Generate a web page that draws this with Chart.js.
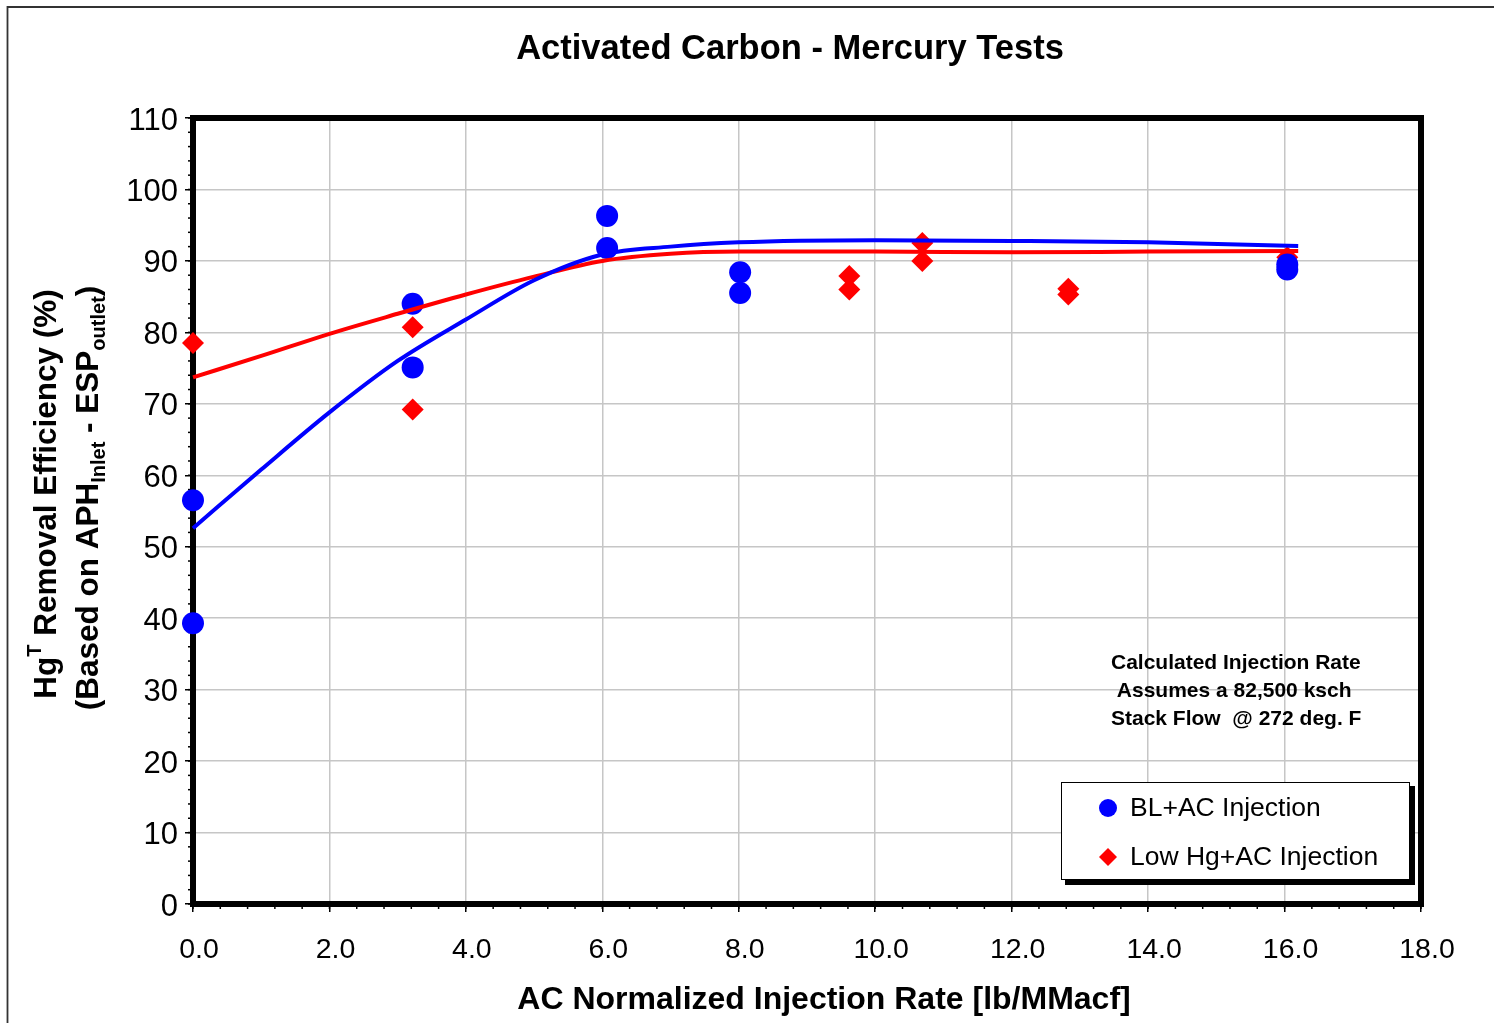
<!DOCTYPE html>
<html>
<head>
<meta charset="utf-8">
<script src="https://cdn.jsdelivr.net/npm/chart.js@4/dist/chart.umd.min.js"></script>
<style>
  body { margin: 0; background: #fff; }
  #wrap { width: 1494px; height: 1023px; }
</style>
</head>
<body>
<div id="wrap"><canvas id="grafico" width="1494" height="1023"></canvas></div>
<script>
// pontos medidos
const rateBL = [0, 0, 3.22, 3.22, 6.07, 6.07, 8.02, 8.02, 16.04, 16.04];
const effBL = [56.5, 39.3, 84.0, 75.1, 96.3, 91.8, 88.4, 85.5, 89.5, 88.8];
const rateLow = [0, 3.22, 3.22, 9.62, 9.62, 10.69, 10.69, 12.83, 12.83, 16.04];
const effLow = [78.5, 80.7, 69.2, 87.9, 86.0, 92.5, 90.0, 86.1, 85.3, 90.5];

// curvas de ajuste
const fitRate = [0, 1, 2, 3, 4, 5, 6, 7, 8, 10, 12, 14, 16.2];
const fitBL = [52.6, 60.8, 68.8, 76.0, 81.8, 87.3, 90.9, 92.0, 92.6, 92.9, 92.8, 92.6, 92.1];
const fitLow = [73.7, 76.7, 79.8, 82.6, 85.3, 87.8, 90.0, 91.0, 91.3, 91.3, 91.2, 91.3, 91.4];

const seriesNames = ['BL+AC Injection', 'Low Hg+AC Injection'];
const noteLines = ['Calculated Injection Rate', ' Assumes a 82,500 ksch', 'Stack Flow  @ 272 deg. F'];

const FONT = '"Liberation Sans", Arial, sans-serif';
const pares = (xs, ys) => xs.map((x, i) => ({ x: x, y: ys[i] }));

// moldura, ticks menores e textos
const extras = {
  id: 'extras',
  beforeDatasetsDraw(chart) {
    const { ctx, chartArea: a, scales } = chart;
    ctx.save();
    ctx.strokeStyle = '#000';
    ctx.lineWidth = 1.5;
    // ticks menores
    for (let v = 0; v <= 18.001; v += 0.4) {
      const px = scales.x.getPixelForValue(v);
      ctx.beginPath(); ctx.moveTo(px, a.bottom); ctx.lineTo(px, a.bottom + 5); ctx.stroke();
    }
    for (let v = 0; v <= 110.001; v += 2) {
      const py = scales.y.getPixelForValue(v);
      ctx.beginPath(); ctx.moveTo(a.left, py); ctx.lineTo(a.left - 5, py); ctx.stroke();
    }
    ctx.lineWidth = 6;
    ctx.strokeRect(a.left, a.top, a.right - a.left, a.bottom - a.top);
    ctx.restore();
  },
  afterDraw(chart) {
    const { ctx } = chart;
    ctx.save();
    // borda externa (so topo e esquerda aparecem)
    ctx.strokeStyle = '#333';
    ctx.lineWidth = 1.8;
    ctx.beginPath();
    ctx.moveTo(7.5, 1023); ctx.lineTo(7.5, 7); ctx.lineTo(1494, 7);
    ctx.stroke();

    ctx.fillStyle = '#000';
    ctx.textAlign = 'center';
    ctx.textBaseline = 'middle';
    ctx.font = 'bold 34.5px ' + FONT;
    ctx.fillText('Activated Carbon - Mercury Tests', 790, 49);
    ctx.font = 'bold 32px ' + FONT;
    ctx.fillText('AC Normalized Injection Rate [lb/MMacf]', 824, 1000);

    // titulo do eixo y com sobrescrito e subscrito
    const desenhaLinha = (partes, baseX, centroY) => {
      let total = 0;
      partes.forEach(p => { ctx.font = p.f; total += ctx.measureText(p.t).width; });
      ctx.save();
      ctx.translate(baseX, centroY);
      ctx.rotate(-Math.PI / 2);
      ctx.textAlign = 'left';
      ctx.textBaseline = 'alphabetic';
      let x = -total / 2;
      partes.forEach(p => {
        ctx.font = p.f;
        ctx.fillText(p.t, x, p.dy || 0);
        x += ctx.measureText(p.t).width;
      });
      ctx.restore();
    };
    const big = 'bold 31.5px ' + FONT;
    const small = 'bold 20px ' + FONT;
    desenhaLinha([
      { t: 'Hg', f: big },
      { t: 'T', f: small, dy: -15 },
      { t: ' Removal Efficiency (%)', f: big }
    ], 56, 494);
    desenhaLinha([
      { t: '(Based on APH', f: big },
      { t: 'Inlet', f: small, dy: 7 },
      { t: ' - ESP', f: big },
      { t: 'outlet', f: small, dy: 7 },
      { t: ')', f: big }
    ], 98, 498);

    // nota
    ctx.textAlign = 'left';
    ctx.textBaseline = 'middle';
    ctx.font = 'bold 21px ' + FONT;
    noteLines.forEach((l, i) => ctx.fillText(l, 1111, 663 + i * 28));

    // legenda
    ctx.fillStyle = '#000';
    ctx.fillRect(1065, 786, 350, 99);
    ctx.fillStyle = '#fff';
    ctx.fillRect(1061, 782, 349, 98);
    ctx.strokeStyle = '#000';
    ctx.lineWidth = 1;
    ctx.strokeRect(1061.5, 782.5, 348, 97);
    const marcas = [chart.data.datasets[2], chart.data.datasets[3]];
    marcas.forEach((ds, i) => {
      const cy = 808 + i * 49;
      ctx.fillStyle = ds.backgroundColor;
      ctx.beginPath();
      if (ds.pointStyle === 'rectRot') {
        ctx.moveTo(1108, cy - 9); ctx.lineTo(1117, cy); ctx.lineTo(1108, cy + 9); ctx.lineTo(1099, cy);
      } else {
        ctx.arc(1108, cy, 9, 0, Math.PI * 2);
      }
      ctx.closePath();
      ctx.fill();
      ctx.fillStyle = '#000';
      ctx.font = '26.5px ' + FONT;
      ctx.fillText(seriesNames[i], 1130, cy + 1);
    });
    ctx.restore();
  }
};

new Chart(document.getElementById('grafico'), {
  type: 'scatter',
  data: {
    datasets: [
      {
        label: 'BL fit', data: pares(fitRate, fitBL), showLine: true,
        borderColor: '#0000ff', borderWidth: 4, pointRadius: 0,
        cubicInterpolationMode: 'monotone', clip: false
      },
      {
        label: 'Low fit', data: pares(fitRate, fitLow), showLine: true,
        borderColor: '#ff0000', borderWidth: 4, pointRadius: 0,
        cubicInterpolationMode: 'monotone', clip: false
      },
      {
        label: seriesNames[0], data: pares(rateBL, effBL),
        backgroundColor: '#0000ff', borderWidth: 0, pointRadius: 11,
        pointStyle: 'circle', clip: false
      },
      {
        label: seriesNames[1], data: pares(rateLow, effLow),
        backgroundColor: '#ff0000', borderWidth: 0, pointRadius: 11,
        pointStyle: 'rectRot', clip: false
      }
    ]
  },
  options: {
    responsive: false,
    animation: false,
    layout: { padding: { left: 0, top: 118, right: 73, bottom: 0 } },
    plugins: { legend: { display: false }, tooltip: { enabled: false } },
    scales: {
      x: {
        type: 'linear', min: 0, max: 18,
        afterFit: s => { s.height = 119; },
        border: { display: false },
        grid: { color: '#c6c6c6', lineWidth: 1.5, tickColor: '#000', tickLength: 8, tickWidth: 1.5 },
        ticks: {
          stepSize: 2, padding: 21, labelOffset: 6, color: '#000',
          font: { family: FONT, size: 28.5 },
          callback: v => v.toFixed(1)
        }
      },
      y: {
        type: 'linear', min: 0, max: 110,
        afterFit: s => { s.width = 193; },
        border: { display: false },
        grid: { color: '#c6c6c6', lineWidth: 1.5, tickColor: '#000', tickLength: 8, tickWidth: 1.5 },
        ticks: {
          stepSize: 10, padding: 7, labelOffset: 3, color: '#000',
          font: { family: FONT, size: 31 }
        }
      }
    }
  },
  plugins: [extras]
});
</script>
</body>
</html>
